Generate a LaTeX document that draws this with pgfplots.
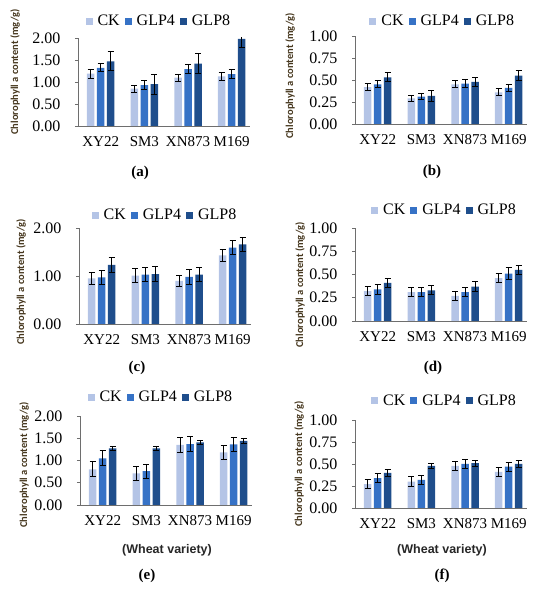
\documentclass[border=0pt]{standalone}
\usepackage{pgfplots}
\pgfplotsset{compat=1.18}
\usepackage{pgfplotstable}
\usepackage{fontspec}
\setmainfont{Liberation Serif}
\newfontfamily\labfont{Carlito}
\newfontfamily\sansfont{Liberation Sans}
\definecolor{ckc}{RGB}{180,196,230}
\definecolor{g4c}{RGB}{54,114,198}
\definecolor{g8c}{RGB}{31,78,140}
\definecolor{labc}{RGB}{70,55,30}
\definecolor{axc}{RGB}{110,110,110}

% x  ck ckerr g4 g4err g8 g8err
\pgfplotstableread{
x ck cke g4 g4e g8 g8e
0 1.19 0.10 1.32 0.09 1.47 0.22
1 0.85 0.08 0.93 0.10 0.95 0.23
2 1.10 0.08 1.29 0.10 1.42 0.23
3 1.13 0.09 1.18 0.11 1.98 0.20
}\tA
\pgfplotstableread{
x ck cke g4 g4e g8 g8e
0 0.42 0.04 0.45 0.04 0.53 0.05
1 0.29 0.03 0.31 0.035 0.32 0.06
2 0.45 0.04 0.46 0.04 0.48 0.05
3 0.36 0.04 0.41 0.04 0.55 0.06
}\tB
\pgfplotstableread{
x ck cke g4 g4e g8 g8e
0 0.95 0.12 0.97 0.15 1.23 0.15
1 1.01 0.14 1.03 0.15 1.04 0.15
2 0.90 0.12 0.98 0.15 1.03 0.15
3 1.43 0.13 1.59 0.15 1.66 0.15
}\tC
\pgfplotstableread{
x ck cke g4 g4e g8 g8e
0 0.32 0.05 0.34 0.05 0.41 0.05
1 0.31 0.05 0.31 0.05 0.33 0.05
2 0.27 0.05 0.31 0.05 0.37 0.05
3 0.46 0.05 0.51 0.06 0.55 0.05
}\tD
\pgfplotstableread{
x ck cke g4 g4e g8 g8e
0 0.80 0.17 1.05 0.17 1.27 0.05
1 0.71 0.16 0.76 0.16 1.27 0.05
2 1.35 0.17 1.37 0.17 1.41 0.05
3 1.18 0.15 1.36 0.16 1.44 0.05
}\tE
\pgfplotstableread{
x ck cke g4 g4e g8 g8e
0 0.27 0.05 0.34 0.05 0.40 0.04
1 0.30 0.06 0.32 0.05 0.48 0.03
2 0.48 0.05 0.50 0.05 0.51 0.035
3 0.41 0.05 0.47 0.05 0.50 0.04
}\tF

\pgfplotsset{
  panel/.style={
    scale only axis, width=172bp, anchor=south west,
    xmin=-0.52, xmax=3.42, ymin=0,
    axis x line=bottom, axis y line=left,
    axis line style={axc, line width=0.8bp, -},
    xtick=data, xticklabels={XY22,SM3,XN873,M169},
    xtick style={draw=none},
    ytick style={axc, line width=0.8bp},
    tick align=outside, major tick length=3bp,
    xticklabel style={font=\fontsize{15bp}{15bp}\selectfont, yshift=-4bp},
    yticklabel style={font=\fontsize{16bp}{16bp}\selectfont, xshift=-11bp},
    /pgf/number format/.cd, fixed, fixed zerofill, precision=2, assume math mode=true,
    /pgfplots/.cd,
    ybar=2.5bp, bar width=7.5bp,
    legend columns=3,
    legend image code/.code={\fill[##1] (0bp,-3.5bp) rectangle (7bp,3.5bp);},
    legend style={draw=none, fill=none, font=\fontsize{16bp}{16bp}\selectfont,
      anchor=center, inner sep=0pt, column sep=3bp,
      /tikz/every even column/.append style={column sep=3bp}},
    error bars/y dir=both, error bars/y explicit,
    error bars/error bar style={black, line width=1bp},
    error bars/error mark options={rotate=90, black, mark size=3bp, line width=1bp},
  },
  ckp/.style={fill=ckc, draw=none},
  g4p/.style={fill=g4c, draw=none},
  g8p/.style={fill=g8c, draw=none},
}

\newcommand{\bars}[1]{%
  \addplot[ckp, error bars/.cd, y dir=both, y explicit] table[x=x, y=ck, y error=cke] {#1};
  \addplot[g4p, error bars/.cd, y dir=both, y explicit] table[x=x, y=g4, y error=g4e] {#1};
  \addplot[g8p, error bars/.cd, y dir=both, y explicit] table[x=x, y=g8, y error=g8e] {#1};
  \legend{CK,GLP4,GLP8}
}

\begin{document}
\begin{tikzpicture}
\useasboundingbox (0,0) rectangle (550bp,593bp);

% (a)
\begin{axis}[panel, at={(78bp,467bp)}, height=88bp, ymax=2, ytick={0,0.5,1,1.5,2},
  legend style={at={(0.47,1.193)}}]
\bars{\tA}
\end{axis}
% (b)
\begin{axis}[panel, at={(355bp,469bp)}, height=88bp, ymax=1, ytick={0,0.25,0.5,0.75,1},
  legend style={at={(0.51,1.17)}}]
\bars{\tB}
\end{axis}
% (c)
\begin{axis}[panel, at={(79bp,269bp)}, height=96bp, ymax=2, ytick={0,1,2},
  legend style={at={(0.50,1.135)}}]
\bars{\tC}
\end{axis}
% (d)
\begin{axis}[panel, at={(355bp,272bp)}, height=93bp, ymax=1, ytick={0,0.25,0.5,0.75,1},
  legend style={at={(0.52,1.19)}}]
\bars{\tD}
\end{axis}
% (e)
\begin{axis}[panel, at={(80bp,88bp)}, height=89bp, ymax=2, ytick={0,0.5,1,1.5,2},
  legend style={at={(0.47,1.21)}}]
\bars{\tE}
\end{axis}
% (f)
\begin{axis}[panel, at={(355bp,85bp)}, height=88bp, ymax=1, ytick={0,0.25,0.5,0.75,1},
  legend style={at={(0.52,1.216)}}]
\bars{\tF}
\end{axis}

% y labels
\tikzset{ylab/.style={rotate=90, text=labc, font=\labfont\bfseries\fontsize{10.5bp}{10.5bp}\selectfont, inner sep=0pt}}
\node[ylab] at (15bp,521bp) {Chlorophyll a content (mg/g)};
\node[ylab] at (290bp,517bp) {Chlorophyll a content (mg/g)};
\node[ylab] at (21bp,311bp) {Chlorophyll a content (mg/g)};
\node[ylab] at (300bp,308bp) {Chlorophyll a content (mg/g)};
\node[ylab] at (24bp,128bp) {Chlorophyll a content (mg/g)};
\node[ylab] at (299bp,129bp) {Chlorophyll a content (mg/g)};

% captions
\tikzset{capt/.style={font=\bfseries\fontsize{15bp}{15bp}\selectfont, inner sep=0pt}}
\node[capt] at (140bp,420bp) {(a)};
\node[capt] at (432bp,421bp) {(b)};
\node[capt] at (137bp,225bp) {(c)};
\node[capt] at (433bp,225bp) {(d)};
\node[capt] at (147bp,17bp) {(e)};
\node[capt] at (442bp,17bp) {(f)};

\tikzset{wv/.style={font=\sansfont\bfseries\fontsize{12.5bp}{12.5bp}\selectfont, inner sep=0pt, text=black!85}}
\node[wv] at (167bp,43bp) {(Wheat variety)};
\node[wv] at (442bp,43bp) {(Wheat variety)};
\end{tikzpicture}
\end{document}
